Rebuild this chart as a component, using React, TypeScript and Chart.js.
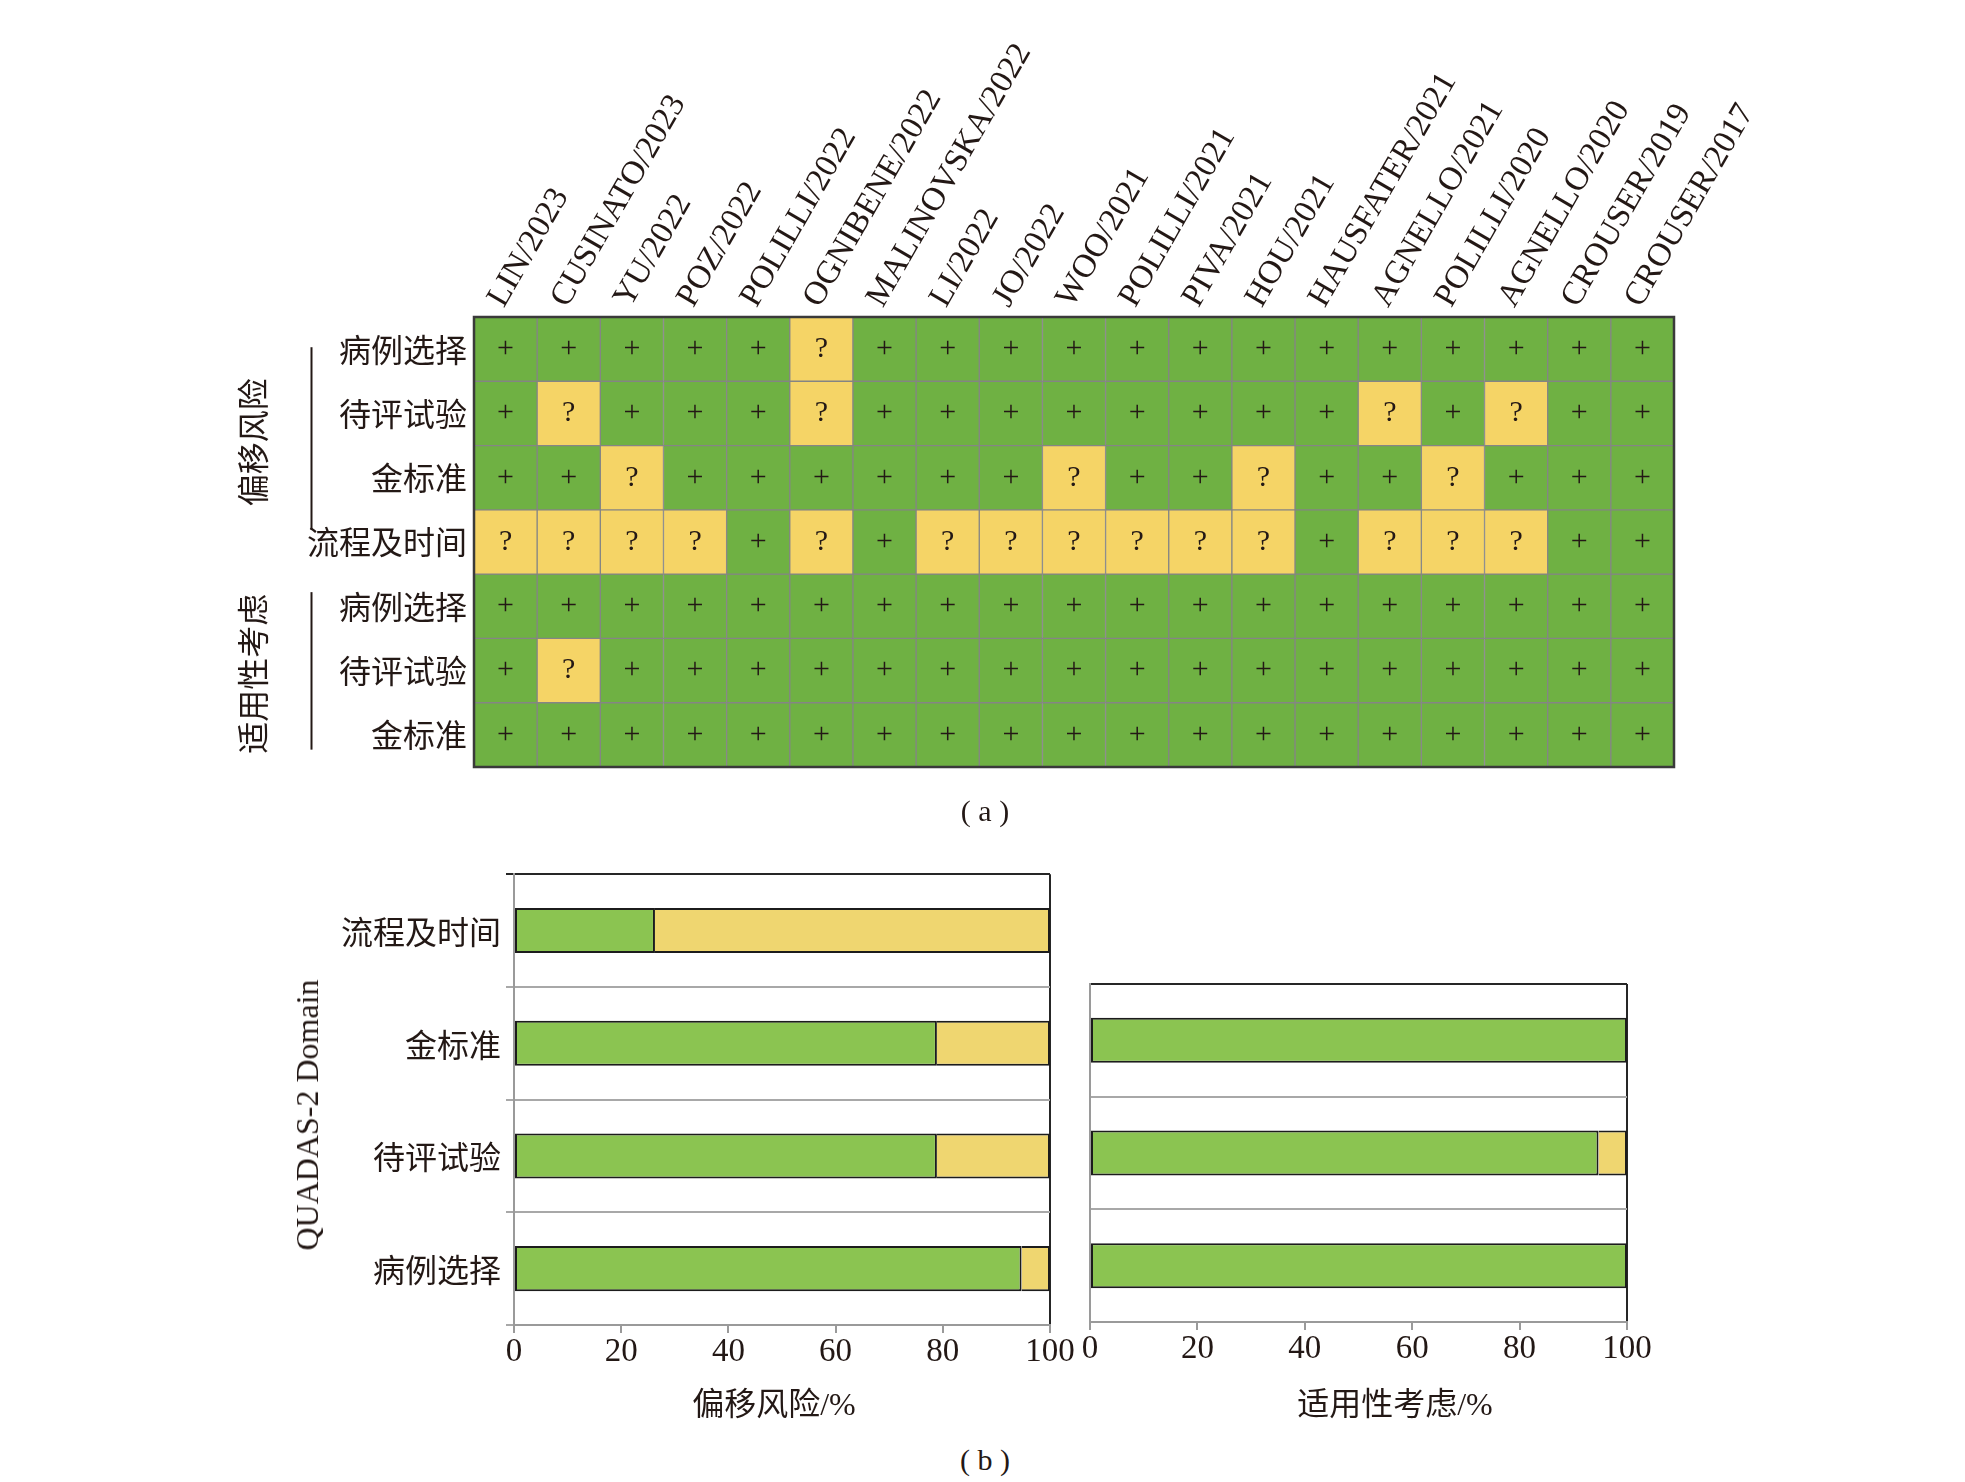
import React, { useEffect, useRef } from 'react';
import { Chart, registerables } from 'chart.js';

Chart.register(...registerables);

// ---------------- data ----------------
const STUDIES = [
  'LIN/2023', 'CUSINATO/2023', 'YU/2022', 'POZ/2022', 'POLILLI/2022', 'OGNIBENE/2022',
  'MALINOVSKA/2022', 'LI/2022', 'JO/2022', 'WOO/2021', 'POLILLI/2021', 'PIVA/2021',
  'HOU/2021', 'HAUSFATER/2021', 'AGNELLO/2021', 'POLILLI/2020', 'AGNELLO/2020',
  'CROUSER/2019', 'CROUSER/2017',
];

const ROW_LABELS = ['病例选择', '待评试验', '金标准', '流程及时间', '病例选择', '待评试验', '金标准'];
const GROUP_LABELS = ['偏移风险', '适用性考虑'];

// '+' = low risk, '?' = unclear (one entry per study)
const ROB_PATIENT = ['+', '+', '+', '+', '+', '?', '+', '+', '+', '+', '+', '+', '+', '+', '+', '+', '+', '+', '+'];
const ROB_INDEX = ['+', '?', '+', '+', '+', '?', '+', '+', '+', '+', '+', '+', '+', '+', '?', '+', '?', '+', '+'];
const ROB_REF = ['+', '+', '?', '+', '+', '+', '+', '+', '+', '?', '+', '+', '?', '+', '+', '?', '+', '+', '+'];
const ROB_FLOW = ['?', '?', '?', '?', '+', '?', '+', '?', '?', '?', '?', '?', '?', '+', '?', '?', '?', '+', '+'];
const APP_PATIENT = ['+', '+', '+', '+', '+', '+', '+', '+', '+', '+', '+', '+', '+', '+', '+', '+', '+', '+', '+'];
const APP_INDEX = ['+', '?', '+', '+', '+', '+', '+', '+', '+', '+', '+', '+', '+', '+', '+', '+', '+', '+', '+'];
const APP_REF = ['+', '+', '+', '+', '+', '+', '+', '+', '+', '+', '+', '+', '+', '+', '+', '+', '+', '+', '+'];
const HEAT_ROWS = [ROB_PATIENT, ROB_INDEX, ROB_REF, ROB_FLOW, APP_PATIENT, APP_INDEX, APP_REF];

const ROB_DOMAINS = ['流程及时间', '金标准', '待评试验', '病例选择'];
const ROB_LOW = [26.3, 78.9, 78.9, 94.7];
const ROB_UNCLEAR = [73.7, 21.1, 21.1, 5.3];

const APP_DOMAINS = ['金标准', '待评试验', '病例选择'];
const APP_LOW = [100, 94.7, 100];
const APP_UNCLEAR = [0, 5.3, 0];

const PCT_MIN = 0;
const PCT_MAX = 100;
const PCT_STEP = 20;

// ---------------- style ----------------
const SERIF = "'Liberation Serif', 'Noto Sans CJK SC', serif";
const TEXT = '#231815';
const HEAT_GREEN = '#6FB143';
const HEAT_YELLOW = '#F5D466';
const HEAT_GRID = '#858585';
const BAR_GREEN = '#8BC451';
const BAR_YELLOW = '#EFD670';
const AXIS_GRAY = '#9a9a9a';
const DARK = '#262626';

const heatPlugin = {
  id: 'heatCells',
  afterDatasetsDraw(chart: any) {
    const { ctx, chartArea, scales } = chart;
    ctx.save();
    ctx.font = `30px ${SERIF}`;
    ctx.fillStyle = TEXT;
    ctx.textAlign = 'center';
    ctx.textBaseline = 'middle';
    chart.data.datasets.forEach((_ds: any, di: number) => {
      const meta = chart.getDatasetMeta(di);
      meta.data.forEach((el: any, j: number) => {
        ctx.fillText(HEAT_ROWS[di][j], el.x, (el.y + el.base) / 2);
      });
    });
    ctx.strokeStyle = '#3a3a3a';
    ctx.lineWidth = 2.5;
    ctx.strokeRect(chartArea.left, chartArea.top, chartArea.right - chartArea.left, chartArea.bottom - chartArea.top);

    // group brackets + vertical group titles
    const y = scales.y;
    const spans = [[0.47, 3.31], [4.28, 6.73]];
    const centers = [1.95, 5.55];
    const lineX = chartArea.left - 162.5;
    const textX = chartArea.left - 217;
    ctx.strokeStyle = TEXT;
    ctx.lineWidth = 2;
    spans.forEach(([a, b]) => {
      ctx.beginPath();
      ctx.moveTo(lineX, y.getPixelForValue(a));
      ctx.lineTo(lineX, y.getPixelForValue(b));
      ctx.stroke();
    });
    ctx.font = `32px ${SERIF}`;
    GROUP_LABELS.forEach((g, i) => {
      ctx.save();
      ctx.translate(textX, y.getPixelForValue(centers[i]));
      ctx.rotate(-Math.PI / 2);
      ctx.fillText(g, 0, 0);
      ctx.restore();
    });
    ctx.restore();
  },
};

function heatConfig(): any {
  return {
    type: 'bar',
    data: {
      labels: STUDIES,
      datasets: HEAT_ROWS.map((row, i) => ({
        label: ROW_LABELS[i],
        data: row.map(() => 1),
        backgroundColor: row.map((v) => (v === '+' ? HEAT_GREEN : HEAT_YELLOW)),
        borderColor: HEAT_GRID,
        borderWidth: 1,
        borderSkipped: false,
        barPercentage: 1,
        categoryPercentage: 1,
        stack: 'cells',
      })),
    },
    options: {
      animation: false,
      responsive: false,
      devicePixelRatio: 1,
      layout: { padding: { top: 0, right: 126, bottom: 40, left: 0 } },
      plugins: { legend: { display: false }, tooltip: { enabled: false } },
      scales: {
        x: {
          type: 'category',
          position: 'top',
          stacked: true,
          grid: { display: false, drawTicks: false },
          border: { display: false },
          ticks: {
            autoSkip: false,
            minRotation: 60,
            maxRotation: 60,
            labelOffset: 25,
            padding: 3,
            color: TEXT,
            font: { family: SERIF, size: 33 },
          },
          afterFit: (axis: any) => { axis.height = 317; },
        },
        y: {
          type: 'linear',
          stacked: true,
          reverse: true,
          min: 0,
          max: ROW_LABELS.length,
          grid: { display: false, drawTicks: false },
          border: { display: false },
          afterBuildTicks: (axis: any) => {
            axis.ticks = ROW_LABELS.map((_l, i) => ({ value: i + 0.5 }));
          },
          ticks: {
            autoSkip: false,
            padding: 7,
            labelOffset: 4,
            color: TEXT,
            font: { family: SERIF, size: 32 },
            callback: (_v: any, i: number) => ROW_LABELS[i],
          },
          afterFit: (axis: any) => { axis.width = 474; },
        },
      },
    },
    plugins: [heatPlugin],
  };
}

function barConfig(labels: string[], low: number[], unclear: number[], yWidth: number, xHeight: number, pad: any, showY: boolean): any {
  return {
    type: 'bar',
    data: {
      labels,
      datasets: [
        {
          label: '低风险',
          data: low,
          backgroundColor: BAR_GREEN,
          borderColor: '#1c1c1c',
          borderWidth: 2,
          borderSkipped: false,
          categoryPercentage: 0.4,
          barPercentage: 1,
        },
        {
          label: '不确定',
          data: unclear,
          backgroundColor: BAR_YELLOW,
          borderColor: '#1c1c1c',
          borderWidth: 2,
          borderSkipped: 'start',
          categoryPercentage: 0.4,
          barPercentage: 1,
        },
      ],
    },
    options: {
      indexAxis: 'y',
      animation: false,
      responsive: false,
      devicePixelRatio: 1,
      layout: { padding: pad },
      plugins: { legend: { display: false }, tooltip: { enabled: false } },
      scales: {
        x: {
          stacked: true,
          min: PCT_MIN,
          max: PCT_MAX,
          ticks: { stepSize: PCT_STEP, padding: 0, color: TEXT, font: { family: SERIF, size: 33 } },
          grid: {
            lineWidth: 2,
            tickLength: 8,
            tickColor: AXIS_GRAY,
            color: (c: any) => (c.tick && c.tick.value === PCT_MAX ? DARK : 'rgba(0,0,0,0)'),
          },
          border: { color: AXIS_GRAY, width: 2 },
          afterFit: (axis: any) => { axis.height = xHeight; },
        },
        y: {
          stacked: true,
          ticks: { display: showY, padding: 5, labelOffset: 5, color: TEXT, font: { family: SERIF, size: 32 } },
          grid: {
            offset: true,
            lineWidth: 2,
            tickLength: 8,
            drawTicks: showY,
            color: (c: any) => (c.index === 0 ? DARK : '#a8a8a8'),
          },
          border: { color: AXIS_GRAY, width: 2 },
          afterFit: (axis: any) => { axis.width = yWidth; },
        },
      },
    },
  };
}

const textStyle = (x: number, y: number, extra: any = {}): React.CSSProperties => ({
  position: 'absolute',
  left: x,
  top: y,
  transform: 'translate(-50%, -50%)',
  whiteSpace: 'nowrap',
  fontFamily: SERIF,
  fontSize: 32,
  color: TEXT,
  lineHeight: 1,
  ...extra,
});

export default function App() {
  const aRef = useRef<HTMLCanvasElement>(null);
  const bRef = useRef<HTMLCanvasElement>(null);
  const cRef = useRef<HTMLCanvasElement>(null);

  useEffect(() => {
    const charts = [
      new Chart(aRef.current as HTMLCanvasElement, heatConfig()),
      new Chart(
        bRef.current as HTMLCanvasElement,
        barConfig(ROB_DOMAINS, ROB_LOW, ROB_UNCLEAR, 514, 65, { top: 24, right: 40, bottom: 0, left: 0 }, true),
      ),
      new Chart(
        cRef.current as HTMLCanvasElement,
        barConfig(APP_DOMAINS, APP_LOW, APP_UNCLEAR, 30, 68, { top: 24, right: 53, bottom: 0, left: 0 }, false),
      ),
    ];
    return () => charts.forEach((c) => c.destroy());
  }, []);

  return (
    <div style={{ position: 'absolute', left: 0, top: 0, width: 1965, height: 1482, background: '#fff', overflow: 'hidden' }}>
      <canvas ref={aRef} width={1800} height={807} style={{ position: 'absolute', left: 0, top: 0, width: 1800, height: 807 }} />
      <canvas ref={bRef} width={1090} height={540} style={{ position: 'absolute', left: 0, top: 850, width: 1090, height: 540 }} />
      <canvas ref={cRef} width={620} height={430} style={{ position: 'absolute', left: 1060, top: 960, width: 620, height: 430 }} />
      <div style={textStyle(985, 811, { fontSize: 30 })}>(&nbsp;a&nbsp;)</div>
      <div style={textStyle(774, 1404)}>偏移风险/%</div>
      <div style={textStyle(1395, 1404)}>适用性考虑/%</div>
      <div style={textStyle(307, 1115, { transform: 'translate(-50%, -50%) rotate(-90deg)' })}>QUADAS-2 Domain</div>
      <div style={textStyle(985, 1460, { fontSize: 30 })}>(&nbsp;b&nbsp;)</div>
    </div>
  );
}
